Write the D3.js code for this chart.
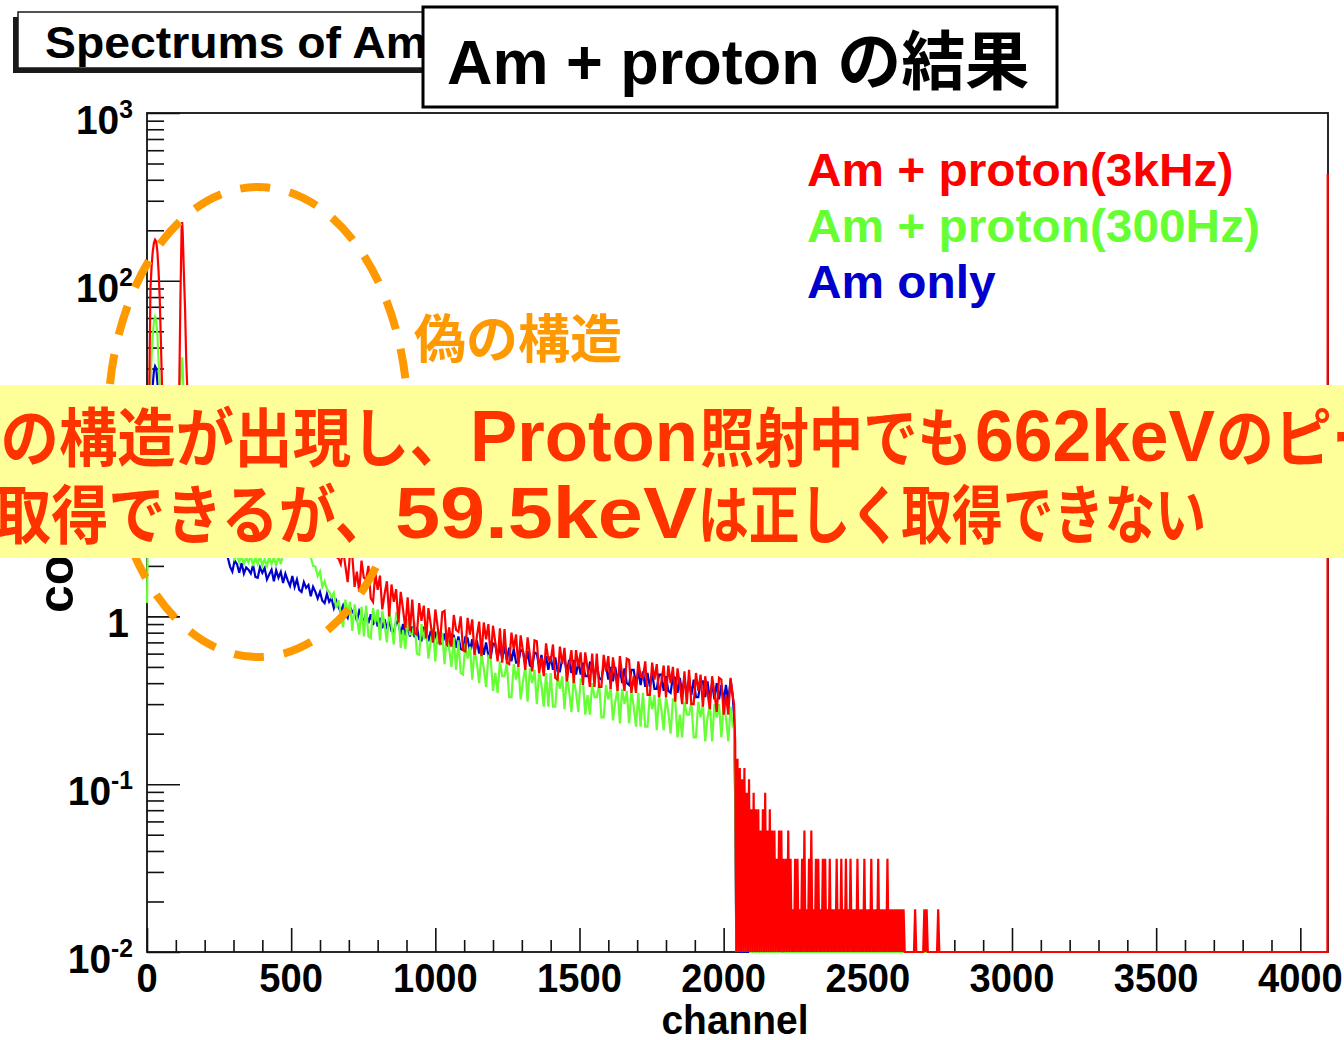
<!DOCTYPE html>
<html>
<head>
<meta charset="utf-8">
<script src="https://cdn.jsdelivr.net/npm/d3@7"></script>
<style>
  html, body { margin: 0; padding: 0; background: #fff; }
  svg { display: block; }
</style>
</head>
<body>
<svg id="chart" width="1344" height="1040"></svg>
<script>
// ---------------------------------------------------------------
// Spectrum data (counts per channel, log scale)
// ---------------------------------------------------------------

// Low-channel region with the two peaks
const peakChannels = [0,4,8,12,16,20,24,28,32,36,40,44,48,52,56,64,72,80,88,96,104,108,112,116,120,122,124,128,132,136,140,144,152,160,168,176,184,192];
const peakRed   = [6,10,24,90,122,150,168,176,172,150,115,80,45,24,16,12,11,10.5,10.5,11,13,17,24,80,205,224,190,110,68,34,22,17,15,14.5,14.5,14,14.2,14];
const peakGreen = [1.2,4,12,24,36,48,57,61,58,48,34,24,15,11,9,7.5,7,6.8,6.8,7,7.5,9,14,25,33,35,30,18,11,8.5,7.5,7,6.5,6.2,5.8,5.4,5.0,4.8];
const peakBlue  = [3,5,9,14,19,24,29,31,30,25,19,14,10,8,7,6,5.5,5.2,5,5,5.2,6,8,11,14,15,13,9,6.5,5,4.5,4.2,3.8,3.5,3.3,3.1,3.0,2.95];

// Continuum: channels 200 .. 2032, one value every 8 channels
const contStart = 200, contStep = 8;
const contRed = [
  14,13.2,12.8,12.1,11.6,11.0,10.6,10.1,9.7,9.3,
  9.0,8.6,8.4,8.0,7.6,7.4,7.1,6.8,6.6,6.3,
  6.1,5.9,5.7,5.5,5.3,5.1,4.9,4.8,4.6,4.5,
  4.3,4.2,4.1,4.0,3.9,3.8,3.7,3.6,3.5,3.4,
  3.3,3.25,3.2,3.1,3.0,2.95,2.9,2.85,2.8,2.7,
  2.65,2.6,2.55,2.48,2.42,2.38,2.3,2.26,2.22,2.05,
  2.52,2.00,1.60,2.35,2.30,1.50,1.85,1.40,2.15,1.70,
  1.66,2.00,1.28,1.22,1.82,1.44,1.75,1.10,1.36,1.62,
  1.00,1.55,1.22,1.45,0.92,1.40,1.10,0.85,1.30,0.82,
  1.26,0.80,0.78,1.20,0.94,1.16,0.74,1.12,0.90,0.70,
  1.10,0.87,0.68,1.06,1.08,0.67,0.86,0.66,1.02,0.83,
  0.81,1.00,0.63,0.62,0.98,0.78,0.96,0.59,0.76,0.93,
  0.58,0.92,0.73,0.90,0.56,0.88,0.70,0.54,0.85,0.53,
  0.84,0.53,0.52,0.80,0.64,0.78,0.50,0.77,0.62,0.48,
  0.75,0.59,0.47,0.72,0.71,0.46,0.57,0.44,0.69,0.55,
  0.54,0.68,0.43,0.42,0.66,0.52,0.65,0.41,0.51,0.63,
  0.40,0.63,0.50,0.61,0.39,0.61,0.49,0.38,0.60,0.38,
  0.60,0.38,0.38,0.59,0.47,0.58,0.37,0.57,0.46,0.36,
  0.58,0.45,0.36,0.56,0.55,0.35,0.44,0.35,0.54,0.44,
  0.43,0.54,0.34,0.34,0.53,0.42,0.52,0.33,0.41,0.51,
  0.33,0.51,0.40,0.50,0.31,0.49,0.39,0.30,0.47,0.30,
  0.48,0.30,0.30,0.46,0.36,0.45,0.29,0.44,0.35,0.28,
  0.44,0.35,0.27,0.43,0.42,0.26,0.34,0.26,0.43,0.33
];
const contGreen = [
  4.6,4.3,4.1,3.9,3.6,3.4,3.2,3.0,2.8,2.6,
  2.5,2.3,2.4,2.2,2.35,2.1,2.3,2.05,2.25,2.1,
  2.3,2.0,2.25,2.05,2.3,2.0,2.2,2.0,2.25,2.05,
  2.25,2.0,2.3,2.05,2.35,2.3,2.8,3.5,4.2,4.8,
  5.2,5.2,4.8,4.0,3.2,2.6,2.25,2.0,1.98,1.74,
  1.85,1.50,1.62,1.45,1.40,1.30,1.38,1.12,1.25,1.04,
  0.86,1.26,1.04,1.22,0.82,1.18,0.98,0.78,1.14,0.76,
  1.16,0.76,0.74,1.12,0.92,1.10,0.72,1.08,0.90,0.70,
  1.08,0.88,0.68,1.04,1.02,0.65,0.83,0.64,0.97,0.78,
  0.78,0.93,0.60,0.59,0.90,0.73,0.88,0.56,0.71,0.85,
  0.54,0.82,0.67,0.80,0.52,0.78,0.64,0.50,0.75,0.48,
  0.72,0.46,0.45,0.69,0.56,0.66,0.42,0.64,0.53,0.40,
  0.60,0.49,0.38,0.58,0.56,0.36,0.46,0.35,0.54,0.44,
  0.44,0.53,0.33,0.33,0.52,0.42,0.51,0.32,0.41,0.50,
  0.31,0.49,0.40,0.48,0.30,0.47,0.39,0.29,0.46,0.29,
  0.46,0.29,0.29,0.45,0.37,0.44,0.28,0.44,0.36,0.27,
  0.43,0.35,0.27,0.42,0.41,0.26,0.34,0.26,0.40,0.33,
  0.33,0.40,0.25,0.25,0.39,0.32,0.38,0.24,0.31,0.37,
  0.23,0.37,0.30,0.36,0.23,0.36,0.29,0.22,0.35,0.22,
  0.35,0.22,0.22,0.34,0.28,0.34,0.21,0.34,0.28,0.21,
  0.33,0.27,0.20,0.32,0.32,0.19,0.26,0.19,0.31,0.26,
  0.26,0.31,0.19,0.19,0.31,0.25,0.30,0.18,0.25,0.30,
  0.18,0.30,0.25,0.30,0.19,0.30,0.25,0.18,0.29,0.22
];
const contBlue = [
  2.9,2.85,2.75,2.7,2.6,2.55,2.5,2.45,2.4,2.3,
  2.25,1.98,1.85,2.15,2.05,1.82,2.08,1.80,1.96,1.90,
  1.80,2.02,1.72,1.70,1.96,1.82,1.94,1.66,1.78,1.90,
  1.62,1.88,1.70,1.84,1.58,1.80,1.64,1.52,1.74,1.50,
  1.66,1.44,1.40,1.60,1.48,1.54,1.32,1.50,1.40,1.28,
  1.40,1.24,1.20,1.36,1.22,1.28,1.12,1.24,1.14,1.06,
  1.16,1.04,0.98,1.14,1.06,1.10,0.94,1.08,1.00,0.92,
  1.05,0.91,1.03,0.89,1.00,0.87,0.98,0.85,0.96,0.84,
  0.95,0.82,0.80,0.93,0.91,0.78,0.90,0.77,0.88,0.76,
  0.87,0.75,0.86,0.73,0.72,0.85,0.83,0.71,0.82,0.70,
  0.81,0.69,0.80,0.68,0.79,0.67,0.66,0.78,0.77,0.65,
  0.76,0.64,0.63,0.75,0.74,0.62,0.73,0.61,0.72,0.60,
  0.71,0.59,0.70,0.58,0.57,0.69,0.68,0.56,0.67,0.56,
  0.66,0.55,0.65,0.54,0.64,0.53,0.53,0.63,0.62,0.52,
  0.62,0.51,0.50,0.61,0.60,0.50,0.59,0.49,0.58,0.48,
  0.58,0.48,0.57,0.47,0.47,0.56,0.56,0.46,0.55,0.46,
  0.55,0.45,0.54,0.45,0.53,0.44,0.44,0.53,0.52,0.43,
  0.52,0.43,0.42,0.51,0.51,0.42,0.50,0.41,0.50,0.41,
  0.49,0.40,0.49,0.40,0.39,0.48,0.48,0.39,0.47,0.39,
  0.47,0.38,0.46,0.38,0.46,0.37,0.37,0.45,0.45,0.36,
  0.44,0.36,0.35,0.44,0.43,0.35,0.43,0.35,0.43,0.34,
  0.42,0.34,0.42,0.33,0.33,0.41,0.41,0.33,0.41,0.32,
  0.40,0.32,0.40,0.32,0.39,0.31,0.39,0.31,0.42,0.33
];

// Tail above the Compton edge: channels 2036 .. , one value every 4 channels
const tailStart = 2036, tailStep = 4;
const tailRed = [
  0.30,
  0.178,0,0.142,0,0.125,0,0.107,0,0.125,0,0.089,0,0.107,0,0.071,0,
  0.089,0,0.071,0,0.071,0,0.053,0,0.071,0,0.089,0,0.053,0,0.071,0,
  0.053,0,0.053,0,0.036,0,0.053,0,0.053,0,0.036,0,0.036,0,0.053,0,
  0.036,0,0.018,0,0.036,0,0.036,0,0.018,0,0.036,0,0.053,0,0.018,0,
  0.036,0,0.053,0,0.018,0,0.036,0,0.036,0,0.018,0,0.036,0,0.036,0,
  0.018,0,0.036,0,0.018,0,0.018,0,0.036,0,0.018,0,0.036,0,0.018,0,
  0.036,0,0.018,0,0.036,0,0.018,0,0.018,0,0.036,0,0.018,0,0.018,0,
  0.036,0,0.018,0,0.018,0,0.036,0,0.018,0,0.018,0,0.036,0,0.018,0,
  0.018,0,0.018,0,0.036,0,0.018,0,0.018,0,0.018,0,0.018,0,0.018,0,
  0.018,0,0.018,0,0,0,0,0,0,0,0,0,0.018,0,0,0,
  0,0,0,0,0.018,0,0.018,0,0,0,0,0,0,0,0,0,
  0.018,0,0,0,0
];
const tailGreen = [
  0.22,0.10,0,0.054,0,0.036,0,0.054,0,0.027,0,0.036,0,0.027,0,0,
  0.027,0,0,0.027,0,0,0.027,0,0,0,0.027,0,0,0,0,0,
  0,0,0.027,0,0,0,0,0,0,0,0.027,0
];
const tailBlue = [0.25,0.08,0,0.04,0,0.027,0,0,0,0.018,0];

// Last channel of the 3 kHz run (overflow pile-up)
const lastChannel = 4095;
const redLastBin = 433;

// Axis ticks
const xMajorTicks = [0,500,1000,1500,2000,2500,3000,3500,4000];
const xTickLabels = ["0","500","1000","1500","2000","2500","3000","3500","4000"];
const yMajorTicks = [0.01,0.1,1,10,100,1000];
const yLabelBase = ["10","10","1","10","10","10"];
const yLabelExp  = ["-2","-1","","1","2","3"];

// Legend
const legendLabels = ["Am + proton(3kHz)", "Am + proton(300Hz)", "Am only"];
const seriesColors = { red: "#ff0000", green: "#66ff33", blue: "#0000cc" };

// ---------------------------------------------------------------
// Build point lists
// ---------------------------------------------------------------
function buildSeries(peak, cont, tail, endValue) {
  const pts = peakChannels.map((c, i) => [c, peak[i]]);
  cont.forEach((v, i) => pts.push([contStart + i * contStep, v]));
  tail.forEach((v, i) => pts.push([tailStart + i * tailStep, v]));
  pts.push([lastChannel - 1, 0]);
  pts.push([lastChannel, endValue]);
  return pts;
}
const seriesBlue  = buildSeries(peakBlue,  contBlue,  tailBlue,  0);
const seriesGreen = buildSeries(peakGreen, contGreen, tailGreen, 0);
const seriesRed   = buildSeries(peakRed,   contRed,   tailRed,   redLastBin);

// ---------------------------------------------------------------
// Drawing
// ---------------------------------------------------------------
const svg = d3.select("#chart");
const latin = "'Liberation Sans', Arial, Helvetica, sans-serif";
const cjk = "'Noto Sans CJK JP', 'Noto Sans CJK SC', sans-serif";

const x = d3.scaleLinear().domain([0, 4096]).range([147, 1328]);
const y = d3.scaleLog().domain([0.01, 1000]).range([952, 113]);
const yFloor = 0.01;

svg.append("rect").attr("width", 1344).attr("height", 1040).attr("fill", "#fff");

// Title box with drop shadow
svg.append("rect").attr("x", 13).attr("y", 17).attr("width", 560).attr("height", 56).attr("fill", "#1a1a1a");
svg.append("rect").attr("x", 18).attr("y", 12).attr("width", 560).attr("height", 56)
  .attr("fill", "#fff").attr("stroke", "#1a1a1a").attr("stroke-width", 1.5);
svg.append("g").attr("transform", "translate(45,58) scale(1.03,1)")
  .append("text")
  .attr("font-family", latin).attr("font-weight", "bold").attr("font-size", 45).attr("fill", "#000")
  .text("Spectrums of Am + proton");

// Axes
const axes = svg.append("g").attr("class", "axes");
const xMinorTicks = d3.range(100, 4096, 100).filter(v => !xMajorTicks.includes(v));
const yMinorTicks = [];
[-2, -1, 0, 1, 2].forEach(k => { for (let m = 2; m <= 9; m++) yMinorTicks.push(m * Math.pow(10, k)); });

function styleAxis(g) {
  g.select(".domain").remove();
  g.selectAll(".tick line").attr("stroke", "#111").attr("stroke-width", 1.6);
}
axes.append("g").attr("transform", `translate(0,${y(yFloor)})`)
  .call(d3.axisTop(x).tickValues(xMinorTicks).tickSize(12).tickFormat(""))
  .call(styleAxis);
axes.append("g").attr("transform", `translate(0,${y(yFloor)})`)
  .call(d3.axisTop(x).tickValues(xMajorTicks).tickSize(24).tickFormat(""))
  .call(styleAxis);
axes.append("g").attr("transform", `translate(${x(0)},0)`)
  .call(d3.axisRight(y).tickValues(yMinorTicks).tickSize(17).tickFormat(""))
  .call(styleAxis);
axes.append("g").attr("transform", `translate(${x(0)},0)`)
  .call(d3.axisRight(y).tickValues(yMajorTicks).tickSize(33).tickFormat(""))
  .call(styleAxis);

// Frame
svg.append("rect").attr("x", x(0)).attr("y", y(1000))
  .attr("width", x(4096) - x(0)).attr("height", y(yFloor) - y(1000))
  .attr("fill", "none").attr("stroke", "#111").attr("stroke-width", 1.8);

// X tick labels
xMajorTicks.forEach((v, i) => {
  svg.append("g").attr("transform", `translate(${x(v)},992) scale(0.93,1)`)
    .append("text").attr("text-anchor", "middle")
    .attr("font-family", latin).attr("font-weight", "bold").attr("font-size", 41).attr("fill", "#000")
    .text(xTickLabels[i]);
});
// Y tick labels (10 with exponent)
yMajorTicks.forEach((v, i) => {
  const t = svg.append("g").attr("transform", `translate(${yLabelExp[i] ? 133 : 129},${y(v) + 21}) scale(0.95,1)`)
    .append("text").attr("text-anchor", "end")
    .attr("font-family", latin).attr("font-weight", "bold").attr("fill", "#000");
  t.append("tspan").attr("font-size", 41).text(yLabelBase[i]);
  if (yLabelExp[i]) t.append("tspan").attr("font-size", 26).attr("dy", -16).text(yLabelExp[i]);
});
// Axis titles
svg.append("g").attr("transform", "translate(735,1034) scale(0.95,1)")
  .append("text").attr("text-anchor", "middle")
  .attr("font-family", latin).attr("font-weight", "bold").attr("font-size", 41).attr("fill", "#000")
  .text("channel");
svg.append("text").attr("transform", "translate(73,613) rotate(-90)")
  .attr("font-family", latin).attr("font-weight", "bold").attr("font-size", 50).attr("fill", "#000")
  .text("counts");

// Spectra
svg.append("clipPath").attr("id", "plotClip").append("rect")
  .attr("x", x(0) - 1).attr("y", y(1000) - 1)
  .attr("width", x(4096) - x(0) + 2).attr("height", y(yFloor) - y(1000) + 2);
const line = d3.line().x(d => x(d[0])).y(d => y(Math.max(d[1], yFloor)));
const plot = svg.append("g").attr("clip-path", "url(#plotClip)");
[[seriesBlue, seriesColors.blue], [seriesGreen, seriesColors.green], [seriesRed, seriesColors.red]]
  .forEach(([pts, col]) => {
    plot.append("path").datum(pts).attr("d", line)
      .attr("fill", "none").attr("stroke", col).attr("stroke-width", 2.2).attr("stroke-linejoin", "miter");
  });

// Legend
legendLabels.forEach((lab, i) => {
  svg.append("g").attr("transform", `translate(807,${186 + i * 56}) scale(1.04,1)`)
    .append("text")
    .attr("font-family", latin).attr("font-weight", "bold").attr("font-size", 46)
    .attr("fill", [seriesColors.red, seriesColors.green, seriesColors.blue][i])
    .text(lab);
});

// Dashed ellipse around the low-channel structure
svg.append("ellipse").attr("cx", 258).attr("cy", 422).attr("rx", 150).attr("ry", 235)
  .attr("fill", "none").attr("stroke", "#ff9900").attr("stroke-width", 8)
  .attr("stroke-dasharray", "30 20");
svg.append("text").attr("x", 414).attr("y", 358)
  .attr("font-family", cjk).attr("font-weight", "bold").attr("font-size", 52).attr("fill", "#ff9900")
  .text("偽の構造");

// Highlighted comment band
svg.append("rect").attr("x", 0).attr("y", 385).attr("width", 1344).attr("height", 173).attr("fill", "#ffff99");
const bandRuns = [
  { t: "偽の構造が出現し、", x: -58, w: 526, f: cjk, base: 461 },
  { t: "Proton", x: 470, w: 228, f: latin, base: 461 },
  { t: "照射中でも", x: 700, w: 272, f: cjk, base: 461 },
  { t: "662keV", x: 975, w: 240, f: latin, base: 461 },
  { t: "のピークを", x: 1216, w: 290, f: cjk, base: 461 },
  { t: "取得できるが、", x: -6, w: 398, f: cjk, base: 538 },
  { t: "59.5keV", x: 395, w: 302, f: latin, base: 538 },
  { t: "は正しく取得できない", x: 698, w: 508, f: cjk, base: 538 }
];
bandRuns.forEach(r => {
  svg.append("text").attr("x", r.x).attr("y", r.base)
    .attr("font-family", r.f).attr("font-weight", "bold")
    .attr("font-size", r.f === latin ? 72 : 64).attr("fill", "#ff3300")
    .attr("textLength", r.w).attr("lengthAdjust", "spacingAndGlyphs")
    .text(r.t);
});

// Slide heading box
svg.append("rect").attr("x", 423).attr("y", 7).attr("width", 634).attr("height", 100)
  .attr("fill", "#fff").attr("stroke", "#000").attr("stroke-width", 3);
const head = svg.append("text").attr("x", 447).attr("y", 84)
  .attr("font-weight", "bold").attr("fill", "#000");
head.append("tspan").attr("font-family", latin).attr("font-size", 63).text("Am + proton ");
head.append("tspan").attr("font-family", cjk).attr("font-size", 64).text("の結果");
</script>
</body>
</html>
